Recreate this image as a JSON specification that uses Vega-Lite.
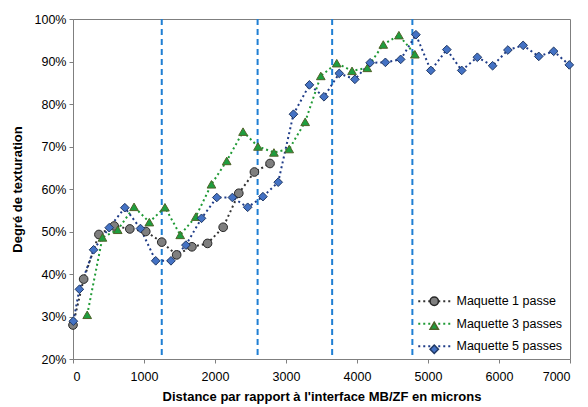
{
  "$schema": "https://vega.github.io/schema/vega-lite/v6.json",
  "autosize": {"type": "none"},
  "padding": {"left": 73, "top": 19, "right": 18, "bottom": 48},
  "width": 497,
  "height": 340,
  "background": "white",
  "config": {
    "font": "Liberation Sans",
    "view": {"stroke": "#7f7f7f", "strokeWidth": 1},
    "axis": {"grid": false, "domainColor": "#7f7f7f", "tickColor": "#7f7f7f", "labelColor": "#000000", "titleColor": "#000000", "labelFont": "Liberation Sans", "titleFont": "Liberation Sans", "labelFontSize": 12.5, "titleFontSize": 13, "titleFontWeight": "bold"}
  },
  "datasets": {
    "mesures": [
      {"serie": "Maquette 1 passe", "x": 0, "y": 28.0},
      {"serie": "Maquette 1 passe", "x": 150, "y": 38.8},
      {"serie": "Maquette 1 passe", "x": 365, "y": 49.3},
      {"serie": "Maquette 1 passe", "x": 580, "y": 51.3},
      {"serie": "Maquette 1 passe", "x": 800, "y": 50.6},
      {"serie": "Maquette 1 passe", "x": 1025, "y": 50.0},
      {"serie": "Maquette 1 passe", "x": 1250, "y": 47.5},
      {"serie": "Maquette 1 passe", "x": 1460, "y": 44.5},
      {"serie": "Maquette 1 passe", "x": 1675, "y": 46.4},
      {"serie": "Maquette 1 passe", "x": 1895, "y": 47.2},
      {"serie": "Maquette 1 passe", "x": 2115, "y": 51.0},
      {"serie": "Maquette 1 passe", "x": 2335, "y": 59.0},
      {"serie": "Maquette 1 passe", "x": 2555, "y": 64.0},
      {"serie": "Maquette 1 passe", "x": 2775, "y": 66.0},
      {"serie": "Maquette 3 passes", "x": 200, "y": 30.4},
      {"serie": "Maquette 3 passes", "x": 415, "y": 48.6},
      {"serie": "Maquette 3 passes", "x": 630, "y": 50.4},
      {"serie": "Maquette 3 passes", "x": 860, "y": 55.8},
      {"serie": "Maquette 3 passes", "x": 1075, "y": 52.2},
      {"serie": "Maquette 3 passes", "x": 1295, "y": 55.7},
      {"serie": "Maquette 3 passes", "x": 1510, "y": 49.2},
      {"serie": "Maquette 3 passes", "x": 1730, "y": 53.5},
      {"serie": "Maquette 3 passes", "x": 1950, "y": 61.1},
      {"serie": "Maquette 3 passes", "x": 2165, "y": 66.6},
      {"serie": "Maquette 3 passes", "x": 2395, "y": 73.5},
      {"serie": "Maquette 3 passes", "x": 2605, "y": 70.0},
      {"serie": "Maquette 3 passes", "x": 2830, "y": 68.6},
      {"serie": "Maquette 3 passes", "x": 3045, "y": 69.4},
      {"serie": "Maquette 3 passes", "x": 3270, "y": 75.8},
      {"serie": "Maquette 3 passes", "x": 3490, "y": 86.6},
      {"serie": "Maquette 3 passes", "x": 3715, "y": 89.6},
      {"serie": "Maquette 3 passes", "x": 3930, "y": 87.8},
      {"serie": "Maquette 3 passes", "x": 4145, "y": 88.5},
      {"serie": "Maquette 3 passes", "x": 4370, "y": 94.0},
      {"serie": "Maquette 3 passes", "x": 4590, "y": 96.2},
      {"serie": "Maquette 3 passes", "x": 4815, "y": 91.7},
      {"serie": "Maquette 5 passes", "x": 5, "y": 28.9},
      {"serie": "Maquette 5 passes", "x": 90, "y": 36.4},
      {"serie": "Maquette 5 passes", "x": 290, "y": 45.7},
      {"serie": "Maquette 5 passes", "x": 510, "y": 50.9},
      {"serie": "Maquette 5 passes", "x": 730, "y": 55.6},
      {"serie": "Maquette 5 passes", "x": 950, "y": 50.7},
      {"serie": "Maquette 5 passes", "x": 1165, "y": 43.1},
      {"serie": "Maquette 5 passes", "x": 1380, "y": 43.1},
      {"serie": "Maquette 5 passes", "x": 1590, "y": 46.8},
      {"serie": "Maquette 5 passes", "x": 1810, "y": 53.1},
      {"serie": "Maquette 5 passes", "x": 2025, "y": 58.0},
      {"serie": "Maquette 5 passes", "x": 2245, "y": 58.0},
      {"serie": "Maquette 5 passes", "x": 2460, "y": 55.7},
      {"serie": "Maquette 5 passes", "x": 2675, "y": 58.2},
      {"serie": "Maquette 5 passes", "x": 2890, "y": 61.6},
      {"serie": "Maquette 5 passes", "x": 3105, "y": 77.6},
      {"serie": "Maquette 5 passes", "x": 3330, "y": 84.5},
      {"serie": "Maquette 5 passes", "x": 3535, "y": 81.7},
      {"serie": "Maquette 5 passes", "x": 3750, "y": 87.2},
      {"serie": "Maquette 5 passes", "x": 3970, "y": 85.8},
      {"serie": "Maquette 5 passes", "x": 4185, "y": 89.7},
      {"serie": "Maquette 5 passes", "x": 4400, "y": 89.8},
      {"serie": "Maquette 5 passes", "x": 4615, "y": 90.5},
      {"serie": "Maquette 5 passes", "x": 4830, "y": 96.3},
      {"serie": "Maquette 5 passes", "x": 5040, "y": 87.9},
      {"serie": "Maquette 5 passes", "x": 5265, "y": 92.8},
      {"serie": "Maquette 5 passes", "x": 5475, "y": 87.9},
      {"serie": "Maquette 5 passes", "x": 5695, "y": 91.0},
      {"serie": "Maquette 5 passes", "x": 5910, "y": 89.0},
      {"serie": "Maquette 5 passes", "x": 6125, "y": 92.7},
      {"serie": "Maquette 5 passes", "x": 6340, "y": 93.8},
      {"serie": "Maquette 5 passes", "x": 6560, "y": 91.2},
      {"serie": "Maquette 5 passes", "x": 6770, "y": 92.4},
      {"serie": "Maquette 5 passes", "x": 6990, "y": 89.2}
    ],
    "limites": [
      {"x": 1250}, {"x": 2600}, {"x": 3650}, {"x": 4780}
    ]
  },
  "layer": [
    {
      "data": {"name": "limites"},
      "mark": {"type": "rule", "color": "#1f7fd4", "strokeWidth": 2, "strokeDash": [6, 4]},
      "encoding": {
        "x": {"field": "x", "type": "quantitative", "scale": {"domain": [0, 7000], "nice": false}}
      }
    },
    {
      "data": {"name": "mesures"},
      "mark": {"type": "line", "strokeWidth": 2, "strokeDash": [2, 3]},
      "encoding": {
        "x": {"field": "x", "type": "quantitative", "scale": {"domain": [0, 7000], "nice": false},
          "axis": {"values": [0, 1000, 2000, 3000, 4000, 5000, 6000, 7000], "format": "d", "tickSize": 4, "labelPadding": 7, "title": "Distance par rapport à l'interface MB/ZF en microns", "titlePadding": 8}},
        "y": {"field": "y", "type": "quantitative", "scale": {"domain": [20, 100], "nice": false},
          "axis": {"values": [20, 30, 40, 50, 60, 70, 80, 90, 100], "labelExpr": "datum.value + '%'", "tickSize": 4, "labelPadding": 3, "title": "Degré de texturation", "titlePadding": 10}},
        "color": {"field": "serie", "type": "nominal",
          "scale": {"range": ["#333333", "#1f9a35", "#1f3c88"]},
          "legend": {"orient": "none", "legendX": 355, "legendY": 276, "title": null, "padding": 0,
            "symbolType": "M-4,0H4", "symbolSize": 64, "symbolStrokeWidth": 2, "symbolDash": [2, 3],
            "labelFontSize": 12.5, "labelFont": "Liberation Sans", "labelColor": "#000000", "labelOffset": 16, "rowPadding": 9.5}}
      }
    },
    {
      "data": {"name": "mesures"},
      "mark": {"type": "point", "filled": true, "size": 75, "strokeWidth": 1, "opacity": 1},
      "encoding": {
        "x": {"field": "x", "type": "quantitative"},
        "y": {"field": "y", "type": "quantitative"},
        "shape": {"field": "serie", "type": "nominal",
          "scale": {"domain": ["Maquette 1 passe", "Maquette 3 passes", "Maquette 5 passes"], "range": ["circle", "triangle-up", "diamond"]},
          "legend": {"orient": "none", "legendX": 355, "legendY": 276, "title": null, "padding": 0, "symbolSize": 70,
            "labelFontSize": 12.5, "labelFont": "Liberation Sans", "labelExpr": "''", "labelOffset": 16, "rowPadding": 9.5}},
        "fill": {"field": "serie", "type": "nominal",
          "scale": {"domain": ["Maquette 1 passe", "Maquette 3 passes", "Maquette 5 passes"], "range": ["#7f7f7f", "#1e9e3e", "#4472c4"]},
          "legend": {"orient": "none", "legendX": 355, "legendY": 276, "title": null, "padding": 0, "symbolSize": 70,
            "labelFontSize": 12.5, "labelFont": "Liberation Sans", "labelExpr": "''", "labelOffset": 16, "rowPadding": 9.5}},
        "stroke": {"field": "serie", "type": "nominal",
          "scale": {"domain": ["Maquette 1 passe", "Maquette 3 passes", "Maquette 5 passes"], "range": ["#262626", "#4f6228", "#203864"]},
          "legend": {"orient": "none", "legendX": 355, "legendY": 276, "title": null, "padding": 0, "symbolSize": 70,
            "labelFontSize": 12.5, "labelFont": "Liberation Sans", "labelExpr": "''", "labelOffset": 16, "rowPadding": 9.5}}
      }
    }
  ]
}
